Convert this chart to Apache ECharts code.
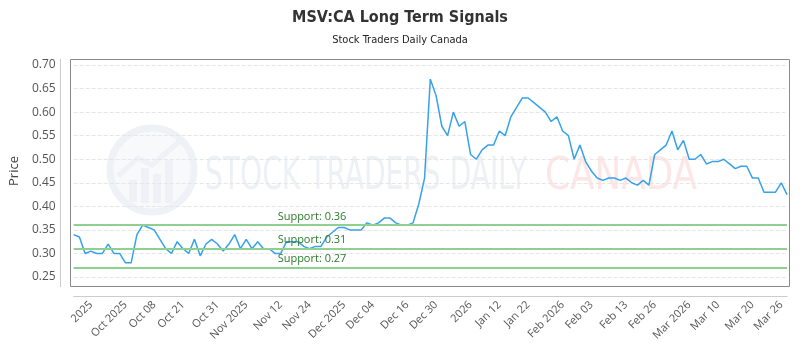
<!DOCTYPE html>
<html>
<head>
<meta charset="utf-8">
<script src="https://cdn.jsdelivr.net/npm/echarts@6/dist/echarts.min.js"></script>
<style>html,body{margin:0;padding:0;background:#fff;}#c{width:800px;height:350px;}</style>
</head>
<body>
<div id="c"></div>
<script>
// ---- data ----
var prices = [
  0.34, 0.335, 0.30, 0.305, 0.30, 0.30, 0.32, 0.30, 0.30, 0.28,
  0.28, 0.34, 0.36, 0.355, 0.35, 0.33, 0.31, 0.30, 0.325, 0.31,
  0.30, 0.33, 0.295, 0.32, 0.33, 0.32, 0.305, 0.32, 0.34, 0.31,
  0.33, 0.31, 0.325, 0.31, 0.31, 0.30, 0.30, 0.325, 0.325, 0.325,
  0.315, 0.31, 0.315, 0.315, 0.335, 0.345, 0.355, 0.355, 0.35, 0.35,
  0.35, 0.365, 0.36, 0.365, 0.375, 0.375, 0.365, 0.36, 0.36, 0.365,
  0.405, 0.46, 0.67, 0.635, 0.57, 0.55, 0.60, 0.57, 0.58, 0.51,
  0.50, 0.52, 0.53, 0.53, 0.56, 0.55, 0.59, 0.61, 0.63, 0.63,
  0.62, 0.61, 0.60, 0.58, 0.59, 0.56, 0.55, 0.50, 0.53, 0.495,
  0.475, 0.46, 0.455, 0.46, 0.46, 0.455, 0.46, 0.45, 0.445, 0.455,
  0.445, 0.51, 0.52, 0.53, 0.56, 0.52, 0.54, 0.50, 0.50, 0.51,
  0.49, 0.495, 0.495, 0.50, 0.49, 0.48, 0.485, 0.485, 0.46, 0.46,
  0.43, 0.43, 0.43, 0.45, 0.425
];
var tickLabels = ["2025","Oct 2025","Oct 08","Oct 21","Oct 31","Nov 2025","Nov 12","Nov 24",
  "Dec 2025","Dec 04","Dec 16","Dec 30","2026","Jan 12","Jan 22","Feb 2026","Feb 03",
  "Feb 13","Feb 26","Mar 2026","Mar 10","Mar 20","Mar 26"];
var tickIndex = [3,9,14,19,25,30,36,41,47,52,58,63,69,74,79,85,90,96,101,107,112,118,123];
var supports = [0.36, 0.31, 0.27];
var yTicks = { min: 0.25, max: 0.70, step: 0.05 };

// categories built from the tick arrays
var categories = prices.map(function () { return ''; });
tickIndex.forEach(function (ix, k) { categories[ix] = tickLabels[k]; });

var chart = echarts.init(document.getElementById('c'), null, { renderer: 'canvas' });

function fitScale(text, font, target) {
  var cv = document.createElement('canvas').getContext('2d');
  cv.font = font;
  var w = cv.measureText(text).width;
  return w > 0 ? target / w : 1;
}
var wmFont = '44px "DejaVu Sans Condensed"';
var s1 = fitScale('STOCK TRADERS DAILY', wmFont, 322);
var s2 = fitScale('CANADA', wmFont, 152);

var option = {
  animation: false,
  title: {
    text: 'MSV:CA Long Term Signals',
    subtext: 'Stock Traders Daily Canada',
    left: 'center',
    top: 5,
    itemGap: 9,
    textStyle: { fontFamily: 'DejaVu Sans Condensed', fontWeight: 'bold', fontSize: 16, color: '#333' },
    subtextStyle: { fontFamily: 'DejaVu Sans Condensed', fontSize: 11, color: '#222' }
  },
  grid: { left: 71, right: 13, top: 65, bottom: 73, containLabel: false },
  xAxis: {
    type: 'category',
    data: categories,
    boundaryGap: false,
    offset: 19,
    axisLine: { show: true, lineStyle: { color: '#cccccc', width: 1 } },
    axisTick: { show: false },
    splitLine: { show: false },
    axisLabel: {
      interval: function (i, v) { return v !== ''; },
      rotate: 45,
      margin: 7,
      fontFamily: 'Open Sans',
      fontSize: 11,
      color: '#555'
    }
  },
  yAxis: {
    type: 'value',
    min: yTicks.min,
    max: yTicks.max,
    interval: yTicks.step,
    offset: 11,
    name: 'Price',
    nameLocation: 'middle',
    nameGap: 36,
    nameTextStyle: { fontFamily: 'Open Sans', fontSize: 13, color: '#444' },
    axisLine: { show: false },
    axisTick: { show: false },
    axisLabel: {
      margin: 7,
      fontFamily: 'Open Sans',
      fontSize: 12,
      color: '#555',
      formatter: function (v) { return v.toFixed(2); }
    },
    splitLine: { show: true, lineStyle: { color: '#e6e6e6', type: 'dashed', width: 1 } }
  },
  graphic: {
    elements: [
      // watermark logo
      { type: 'circle', z: -10, shape: { cx: 152, cy: 170, r: 42 },
        style: { fill: '#f7f9fb', stroke: '#eef2f7', lineWidth: 7 } },
      { type: 'rect', z: -9, shape: { x: 129, y: 180, width: 8, height: 22 }, style: { fill: '#eef1f6' } },
      { type: 'rect', z: -9, shape: { x: 141, y: 168, width: 8, height: 35 }, style: { fill: '#eef1f6' } },
      { type: 'rect', z: -9, shape: { x: 153, y: 174, width: 8, height: 29 }, style: { fill: '#eef1f6' } },
      { type: 'rect', z: -9, shape: { x: 165, y: 160, width: 8, height: 43 }, style: { fill: '#eef1f6' } },
      { type: 'polyline', z: -9, shape: { points: [[118, 176], [138, 158], [152, 165], [181, 140]] },
        style: { stroke: '#eef1f6', lineWidth: 5, fill: null } },
      { type: 'text', z: -10, x: 205, y: 178, scaleX: s1,
        style: { text: 'STOCK TRADERS DAILY', font: wmFont, fill: '#edf0f4', textVerticalAlign: 'middle' } },
      { type: 'text', z: -10, x: 545, y: 178, scaleX: s2,
        style: { text: 'CANADA', font: wmFont, fill: '#fde6e6', textVerticalAlign: 'middle' } },
      // frame + y axis line
      { type: 'rect', z: 50, shape: { x: 70.5, y: 59.5, width: 719, height: 227 },
        style: { fill: null, stroke: '#8a8a8a', lineWidth: 1 } },
      { type: 'line', z: 50, shape: { x1: 60.5, y1: 59, x2: 60.5, y2: 287 },
        style: { stroke: '#cccccc', lineWidth: 1 } }
    ]
  },
  series: [{
    type: 'line',
    data: prices,
    showSymbol: false,
    symbol: 'none',
    lineStyle: { color: '#36a2eb', width: 1.5 },
    z: 3,
    markLine: {
      silent: true,
      symbol: ['none', 'none'],
      lineStyle: { color: '#8fcf8f', type: 'solid', width: 2 },
      label: {
        show: true,
        position: 'insideStartTop',
        distance: [204, 3],
        fontFamily: 'Open Sans',
        fontSize: 11,
        color: '#2a7a2a',
        formatter: function (p) { return 'Support: ' + p.value.toFixed(2); }
      },
      data: supports.map(function (v) { return { yAxis: v }; })
    }
  }]
};
chart.setOption(option);
</script>
</body>
</html>
